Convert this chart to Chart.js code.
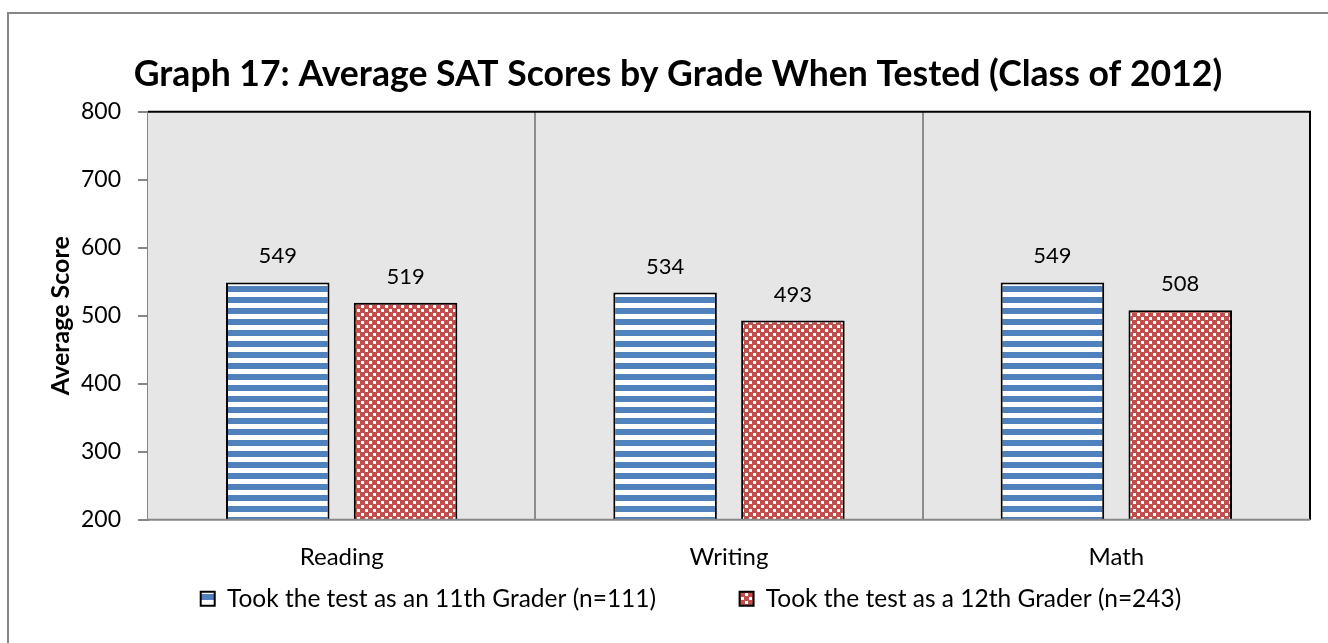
<!DOCTYPE html>
<html>
<head>
<meta charset="utf-8">
<script src="https://cdn.jsdelivr.net/npm/chart.js@4.4.1/dist/chart.umd.min.js"></script>
<style>
  html, body { margin: 0; padding: 0; background: #fff; }
  #wrap { position: relative; width: 1328px; height: 643px; overflow: hidden; }
  #frame { position: absolute; left: 7px; top: 12px; width: 1330px; height: 700px; border: 2px solid #878787; box-sizing: border-box; pointer-events: none; }
  canvas { position: absolute; left: 0; top: 0; }
</style>
</head>
<body>
<div id="wrap">
  <canvas id="chart" width="1328" height="643"></canvas>
  <div id="frame"></div>
</div>
<script>
const categories = ['Reading', 'Writing', 'Math'];
const grade11 = [549, 534, 549];
const grade12 = [519, 493, 508];
const seriesNames = ['Took the test as an 11th Grader (n=111)', 'Took the test as a 12th Grader (n=243)'];
const yTicks = [200, 300, 400, 500, 600, 700, 800];
const FONT = 'Lato, "Open Sans", sans-serif';

function stripePattern() {
  const c = document.createElement('canvas');
  c.width = 11; c.height = 11;
  const g = c.getContext('2d');
  g.fillStyle = '#ffffff';
  g.fillRect(0, 0, 11, 11);
  g.fillStyle = '#4f81bd';
  g.fillRect(0, 0, 11, 6);
  return g.createPattern(c, 'repeat');
}

function dotPattern() {
  const c = document.createElement('canvas');
  c.width = 8; c.height = 8;
  const g = c.getContext('2d');
  g.fillStyle = '#c0504d';
  g.fillRect(0, 0, 8, 8);
  g.fillStyle = '#ffffff';
  g.fillRect(1, 1, 3, 3);
  g.fillRect(5, 5, 3, 3);
  return g.createPattern(c, 'repeat');
}

const bluePat = stripePattern();
const redPat = dotPattern();

const plotFrame = {
  id: 'plotFrame',
  afterLayout(chart) {
    // legend sits a bit right of centre in the original
    chart.legend.left += 13;
    chart.legend.right += 13;
  },
  beforeDatasetsDraw(chart) {
    const a = chart.chartArea;
    const ctx = chart.ctx;
    ctx.save();
    ctx.fillStyle = '#e6e6e6';
    ctx.fillRect(a.left, a.top, a.right - a.left, a.bottom - a.top);
    // category dividers
    ctx.strokeStyle = '#8c8c8c';
    ctx.lineWidth = 2;
    const x = chart.scales.x;
    for (let i = 1; i < categories.length; i++) {
      const px = Math.round((x.getPixelForValue(i - 1) + x.getPixelForValue(i)) / 2);
      ctx.beginPath();
      ctx.moveTo(px, a.top);
      ctx.lineTo(px, a.bottom);
      ctx.stroke();
    }
    ctx.restore();
  },
  afterDraw(chart) {
    const a = chart.chartArea;
    const ctx = chart.ctx;
    ctx.save();
    ctx.strokeStyle = '#000';
    ctx.lineWidth = 2;
    ctx.beginPath();
    ctx.moveTo(a.left, a.top);
    ctx.lineTo(a.right, a.top);
    ctx.lineTo(a.right, a.bottom);
    ctx.stroke();
    ctx.strokeStyle = '#878787';
    ctx.beginPath();
    ctx.moveTo(a.left, a.bottom);
    ctx.lineTo(a.right, a.bottom);
    ctx.stroke();
    ctx.restore();
  }
};

const valueLabels = {
  id: 'valueLabels',
  afterDatasetsDraw(chart) {
    const ctx = chart.ctx;
    ctx.save();
    ctx.font = '22px ' + FONT;
    ctx.fillStyle = '#000';
    ctx.textAlign = 'center';
    ctx.textBaseline = 'bottom';
    chart.data.datasets.forEach((ds, di) => {
      chart.getDatasetMeta(di).data.forEach((bar, i) => {
        ctx.fillText(ds.data[i], bar.x, bar.y - 15);
      });
    });
    ctx.restore();
  }
};

new Chart(document.getElementById('chart'), {
  type: 'bar',
  data: {
    labels: categories,
    datasets: [
      { label: seriesNames[0], data: grade11, backgroundColor: bluePat, borderColor: '#000', borderWidth: 2, borderSkipped: 'bottom' },
      { label: seriesNames[1], data: grade12, backgroundColor: redPat, borderColor: '#000', borderWidth: 2, borderSkipped: 'bottom' }
    ]
  },
  options: {
    responsive: false,
    animation: false,
    devicePixelRatio: 1,
    categoryPercentage: 0.66,
    barPercentage: 0.81,
    layout: { padding: { top: 53, right: 18, left: 46, bottom: 22 } },
    plugins: {
      tooltip: { enabled: false },
      title: {
        display: true,
        text: 'Graph 17: Average SAT Scores by Grade When Tested (Class of 2012)',
        color: '#000',
        font: { family: FONT, size: 35.6, weight: 'bold' },
        padding: { top: 0, bottom: 16 }
      },
      legend: {
        position: 'bottom',
        labels: {
          color: '#000',
          font: { family: FONT, size: 24.5 },
          boxWidth: 14,
          boxHeight: 14,
          padding: 10,
          generateLabels(chart) {
            const items = Chart.defaults.plugins.legend.labels.generateLabels(chart);
            items[0].text = items[0].text + '\u2003\u2003\u2003\u2003';
            return items;
          }
        }
      }
    },
    scales: {
      x: {
        offset: true,
        grid: { display: false },
        border: { display: false },
        ticks: { color: '#000', font: { family: FONT, size: 24 }, padding: 15 },
        afterFit(scale) { scale.height = scale.height - 10; }
      },
      y: {
        min: 200,
        max: 800,
        afterBuildTicks(scale) { scale.ticks = yTicks.map(v => ({ value: v })); },
        afterFit(scale) { scale.width = 102; },
        grid: { color: 'transparent', tickColor: '#878787', tickLength: 10, lineWidth: 2, drawOnChartArea: false },
        border: { color: '#878787', width: 2 },
        ticks: { color: '#000', font: { family: FONT, size: 23 }, padding: 17 },
        title: {
          display: true,
          text: 'Average Score',
          color: '#000',
          font: { family: FONT, size: 25, weight: 'bold' },
          padding: { top: 0, bottom: 4 }
        }
      }
    }
  },
  plugins: [plotFrame, valueLabels]
});
</script>
</body>
</html>
